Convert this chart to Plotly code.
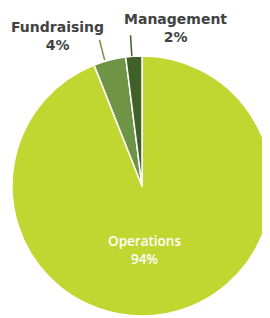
import math
import plotly.graph_objects as go

labels = ["Operations", "Fundraising", "Management"]
values = [94, 4, 2]
colors = ["#bfd730", "#6f9445", "#3f6127"]

# page body adds an 8px offset; work in screen pixels and convert
OFF = 8
W, H = 264, 310
ML, MR, MT, MB = 4, 0, 48, 2
PW, PH = W - ML - MR, H - MT - MB
CX, CY = OFF + ML + PW / 2, OFF + MT + PH / 2
R = min(PW, PH) / 2


def px(x):
    return (x - OFF - ML) / PW


def py(y):
    return (H - MB - (y - OFF)) / PH


fig = go.Figure(go.Pie(
    labels=labels, values=values, sort=False, direction="clockwise", rotation=0,
    marker=dict(colors=colors, line=dict(color="white", width=1.5)),
    textinfo="none", hoverinfo="label+percent", showlegend=False,
    domain=dict(x=[0, 1], y=[0, 1]),
))

total = sum(values)
cum = 0
text_font = dict(family="DejaVu Sans, sans-serif", size=14, color="#424242", weight=700)
line_shift = {"Fundraising": -5, "Management": -2}
text_offsets = {"Fundraising": (-42, -4), "Management": (44.5, -7)}
for lab, v, c in zip(labels, values, colors):
    mid = (cum + v / 2) / total * 2 * math.pi
    cum += v
    pct = f"{round(v / total * 100)}%"
    if lab == "Operations":
        fig.add_annotation(x=px(CX + 2), y=py(CY + 63.5), xref="paper", yref="paper",
                           xanchor="center", yanchor="middle",
                           text=f"{lab}<br>{pct}", showarrow=False,
                           font=dict(family="Open Sans, sans-serif", size=13.5,
                                     color="white", weight=600))
        continue
    sx, sy = math.sin(mid), -math.cos(mid)
    dx = line_shift[lab]
    x0, y0 = CX + R * sx + dx, CY + R * sy
    x1, y1 = CX + (R + 21) * sx + dx, CY + (R + 21) * sy
    fig.add_shape(type="line", xref="paper", yref="paper",
                  x0=px(x0), y0=py(y0), x1=px(x1), y1=py(y1),
                  line=dict(color=c, width=1.5))
    ox, oy = text_offsets[lab]
    fig.add_annotation(x=px(x1 + ox), y=py(y1 + oy), xref="paper", yref="paper",
                       xanchor="center", yanchor="middle",
                       text=f"{lab}<br>{pct}", showarrow=False, font=text_font)

fig.update_layout(width=W, height=H, margin=dict(l=ML, r=MR, t=MT, b=MB),
                  paper_bgcolor="white", plot_bgcolor="white")
fig.write_html("out.html")
